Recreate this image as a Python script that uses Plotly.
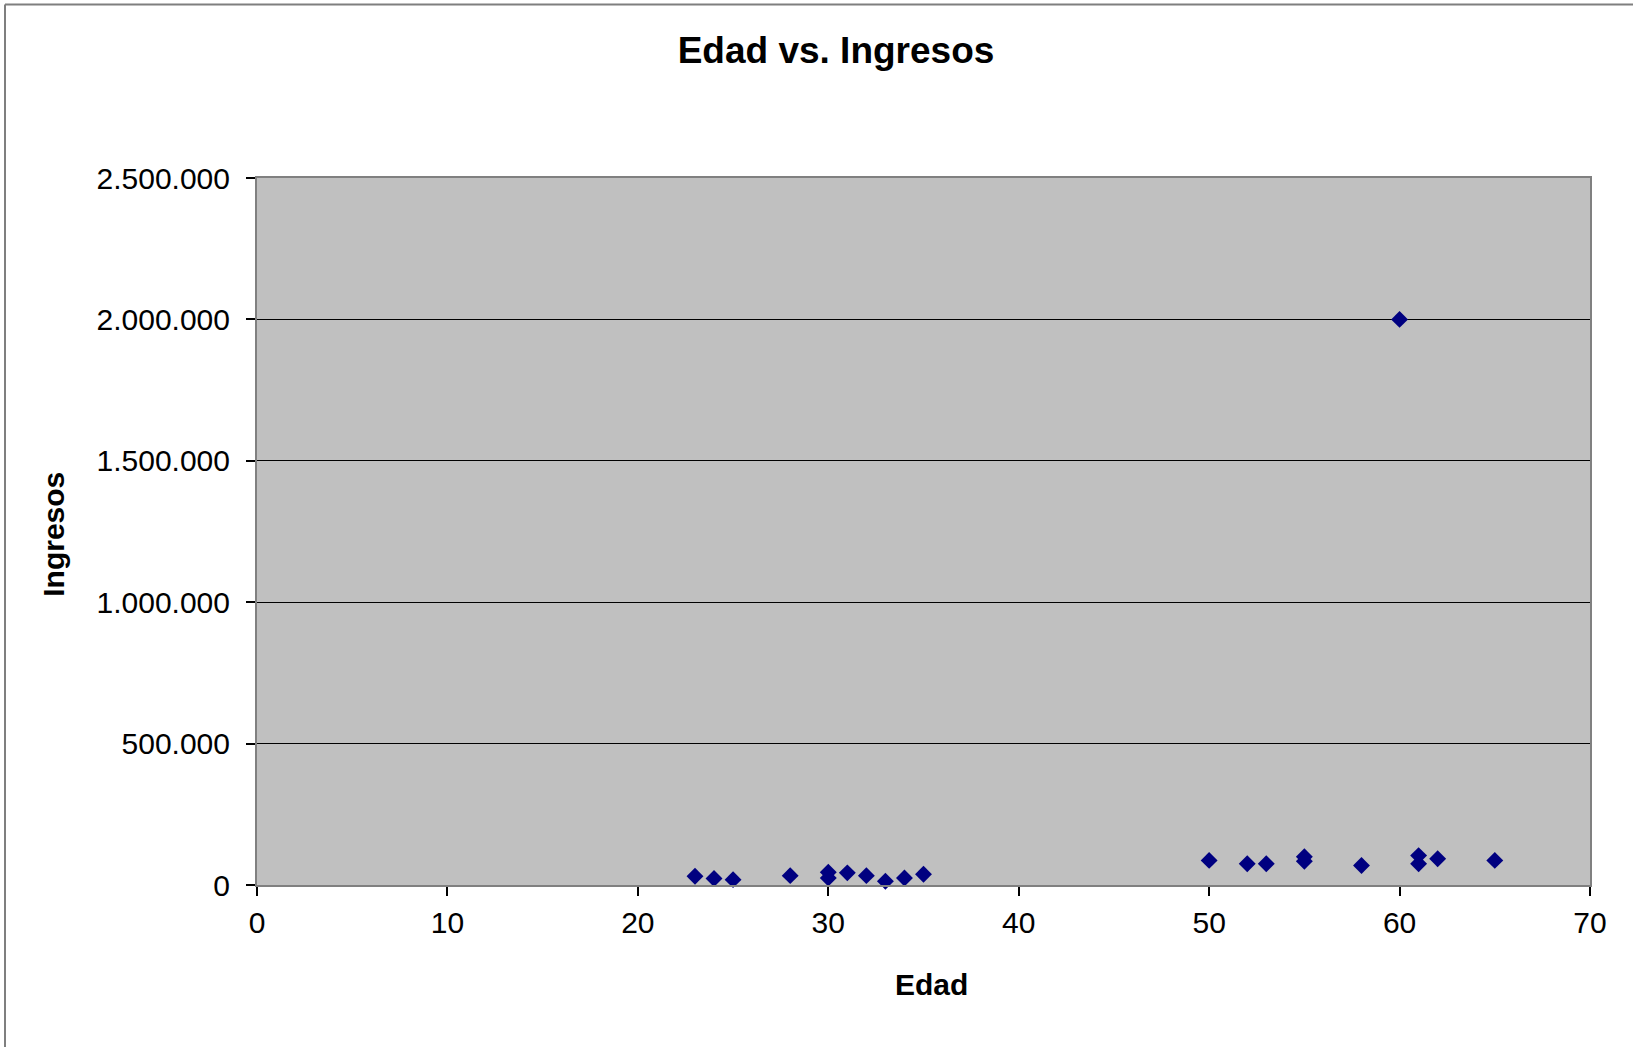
import plotly.graph_objects as go

# Edad (años) e ingresos de cada persona encuestada
edad = [23, 24, 25, 28, 30, 30, 31, 32, 33, 34, 35,
        50, 52, 53, 55, 55, 58, 60, 61, 61, 62, 65]
ingresos = [31000, 23000, 19000, 33000, 45000, 25000, 43000, 33000, 13000, 25000, 38000,
            87000, 75000, 75000, 100000, 84000, 69000, 2000000, 104000, 75000, 93000, 87000]

x_ticks = [0, 10, 20, 30, 40, 50, 60, 70]
y_ticks = [0, 500000, 1000000, 1500000, 2000000, 2500000]

FONT = "Arial, Liberation Sans, sans-serif"
W, H = 1633, 1047
L, R, T, B = 257, 1590, 178, 885.5  # plot area in pixels


def px_x(p):
    return (p - L) / (R - L)


def px_y(p):
    return (B - p) / (B - T)


fig = go.Figure()
fig.add_trace(go.Scatter(
    x=edad, y=ingresos, mode="markers",
    marker=dict(symbol="diamond", size=13, color="#000080",
                line=dict(width=0)),
    showlegend=False, cliponaxis=False,
))

axis_common = dict(
    showline=True, linecolor="#808080", linewidth=2, mirror=True,
    ticks="outside", ticklen=9, tickwidth=1.5, tickcolor="#000000",
    tickfont=dict(family=FONT, size=30, color="#000000"),
    zeroline=False,
)

fig.update_layout(
    width=W, height=H,
    paper_bgcolor="white", plot_bgcolor="#C0C0C0",
    separators=",.",
    margin=dict(l=L, r=W - R, t=T, b=H - B, autoexpand=False),
    title=dict(text="<b>Edad vs. Ingresos</b>", x=836 / W, xanchor="center",
               y=1 - 50 / H, yanchor="middle",
               font=dict(family=FONT, size=37, color="#000000")),
    xaxis=dict(range=[0, 70], tickvals=x_ticks, showgrid=False,
               ticklabelstandoff=1, **axis_common),
    yaxis=dict(range=[0, 2500000], tickvals=y_ticks, tickformat=",d",
               showgrid=True, gridcolor="#000000", gridwidth=1.2,
               ticklabelstandoff=10, **axis_common),
    annotations=[
        dict(text="<b>Edad</b>", xref="paper", yref="paper",
             x=px_x(932), y=px_y(985), xanchor="center", yanchor="middle",
             showarrow=False, font=dict(family=FONT, size=30, color="#000000")),
        dict(text="<b>Ingresos</b>", xref="paper", yref="paper",
             x=px_x(54), y=px_y(535), xanchor="center", yanchor="middle",
             textangle=-90, showarrow=False,
             font=dict(family=FONT, size=30, color="#000000")),
    ],
    shapes=[
        # chart-area frame (left and top edges are visible)
        dict(type="line", xref="paper", yref="paper", x0=px_x(5), x1=px_x(5),
             y0=px_y(4.5), y1=px_y(H + 5), line=dict(color="#7F7F7F", width=2)),
        dict(type="line", xref="paper", yref="paper", x0=px_x(5), x1=px_x(W + 5),
             y0=px_y(4.5), y1=px_y(4.5), line=dict(color="#7F7F7F", width=2)),
    ],
)

fig.write_html("out.html")
